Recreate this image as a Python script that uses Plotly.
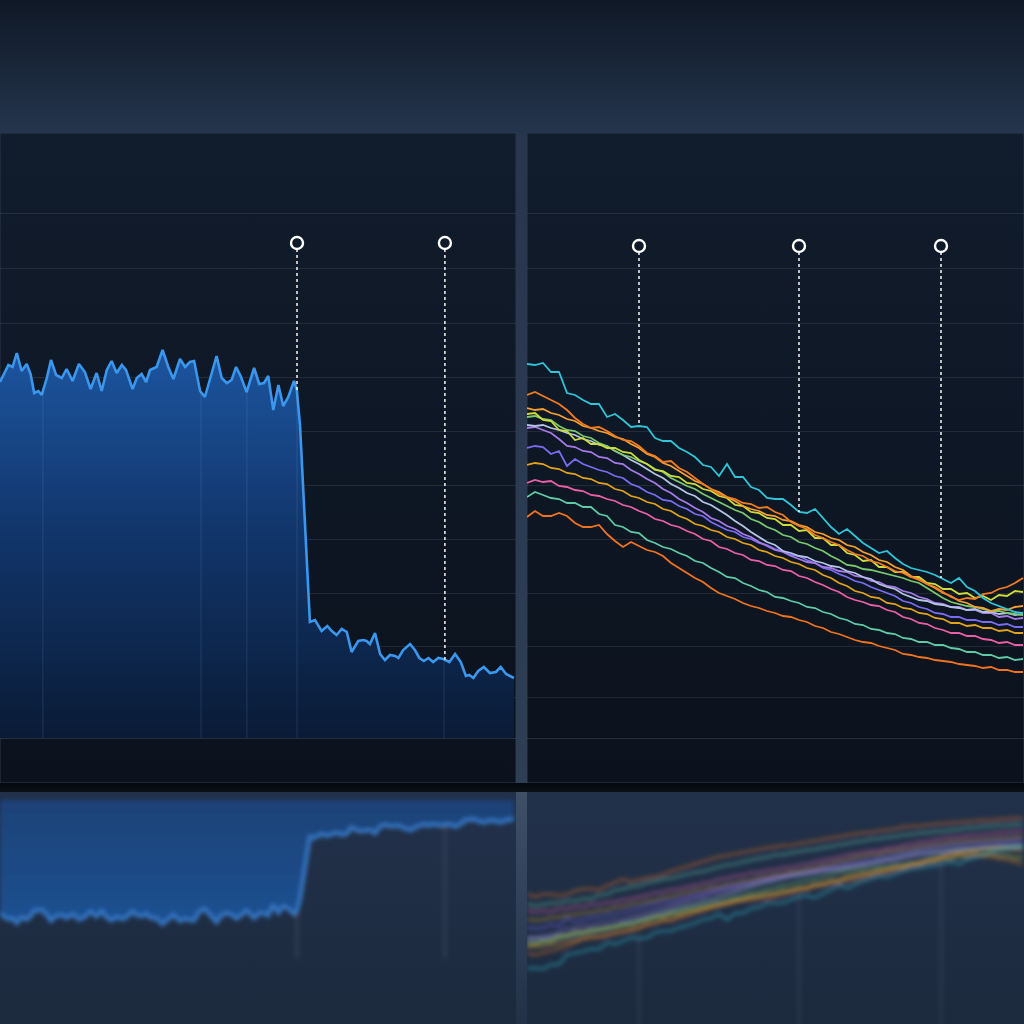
import numpy as np
import plotly.graph_objects as go

# ---- left panel: one channel, sampled at irregular times ----
left_t = [0, 1.7, 2.8, 4.2, 5.6, 7.2, 8.9, 10.2, 11.4, 12.8, 13.9, 15.6, 17.0, 18.7, 20.6, 22.2,
          24.2, 26.3, 28.3, 30.2, 32.2, 33.9, 35.6, 37.2, 38.9, 40.6, 42.0, 44.2, 45.6, 47.2, 48.7,
          50.0, 52.2, 54.2, 56.1, 57.8, 60.0, 61.7, 63.3, 64.7, 66.7, 68.3, 70.0, 72.2, 73.9, 75.6,
          77.2, 78.7, 80.2, 82.2, 84.7, 86.4, 88.0, 89.4, 91.1, 92.8, 94.4, 96.1, 98.0, 98.9, 100.0,
          101.7, 103.3, 105.0, 107.2, 109.1, 110.6, 112.2, 113.9, 115.6, 117.2, 119.4, 121.1, 122.2,
          123.3, 125.0, 126.7, 128.3, 130.0, 131.7, 132.8, 134.4, 136.7, 138.3, 139.8, 141.3, 142.8,
          144.4, 146.1, 147.8, 149.8, 151.7, 153.6, 155.3, 156.4, 157.8, 159.4, 161.3, 163.3, 165.3,
          166.9, 168.7, 170.0, 171.3]
left_level = [35.6, 36.6, 37.3, 37.1, 38.5, 36.7, 37.4, 36.4, 34.5, 34.7, 34.3, 36.0, 37.8, 36.3,
              36.0, 36.9, 35.7, 37.4, 36.6, 34.9, 36.5, 34.7, 36.8, 37.7, 36.5, 37.3, 36.8, 34.9,
              36.0, 36.4, 35.6, 36.8, 37.1, 38.8, 37.1, 35.9, 37.9, 37.1, 37.6, 37.7, 34.7, 34.1,
              36.0, 38.2, 36.0, 35.5, 35.8, 37.1, 36.2, 34.6, 37.0, 35.4, 35.5, 36.2, 32.8, 35.3,
              33.2, 34.1, 35.7, 34.9, 31.3, 20.8, 11.6, 11.8, 10.7, 11.2, 10.7, 10.3, 10.9, 10.6,
              8.6, 9.7, 9.8, 9.7, 9.4, 10.5, 8.4, 7.8, 8.3, 8.2, 8.0, 8.8, 9.4, 8.8, 8.0, 7.7, 8.0,
              7.6, 8.0, 7.9, 7.6, 8.4, 7.6, 6.2, 6.3, 6.0, 6.7, 7.1, 6.5, 6.6, 7.1, 6.4, 6.2, 6.0]
left_events = [99.0, 148.3]
left_grid_t = [14.3, 67.0, 82.3, 99.0, 148.0]

# ---- right panel: twelve channels on a shared sample index ----
right_idx = list(range(63))
right_events = [14.0, 34.0, 51.75]

ch_cyan = [37.4, 37.3, 37.5, 36.6, 36.6, 34.5, 34.3, 33.8, 33.4, 33.4, 32.1, 32.4, 31.8, 31.1, 31.2,
           31.1, 30.0, 29.7, 29.7, 29.0, 28.6, 28.1, 27.3, 27.1, 26.2, 27.4, 26.1, 26.1, 25.1, 24.8,
           24.0, 23.9, 23.9, 23.3, 22.6, 22.5, 22.9, 22.0, 21.1, 20.4, 20.9, 20.2, 19.5, 19.0, 18.5,
           18.7, 18.0, 17.4, 17.0, 16.8, 16.6, 16.3, 15.9, 15.5, 16.0, 15.1, 14.7, 14.0, 13.5, 13.2,
           12.9, 12.6, 12.5]
ch_orange_a = [34.3, 34.6, 34.2, 33.8, 33.4, 32.8, 32.0, 31.4, 31.0, 31.1, 30.7, 30.2, 29.8, 29.7,
               29.2, 28.5, 28.2, 27.6, 27.7, 27.0, 26.6, 26.0, 25.4, 24.9, 24.4, 24.1, 23.9, 23.5,
               23.4, 23.0, 23.1, 22.6, 22.3, 21.6, 21.2, 20.9, 20.3, 20.0, 19.6, 19.3, 18.8, 18.4,
               18.2, 17.7, 17.5, 17.1, 16.7, 16.5, 16.1, 15.8, 15.4, 15.1, 14.6, 14.1, 13.8, 14.0,
               13.9, 14.4, 14.5, 14.9, 15.1, 15.5, 16.0]
ch_orange_b = [33.0, 32.8, 32.9, 32.5, 32.3, 31.9, 31.7, 31.2, 31.0, 30.7, 30.5, 30.1, 29.9, 29.4,
               29.0, 28.4, 28.1, 27.5, 27.2, 26.7, 26.2, 25.7, 25.4, 24.9, 24.6, 24.1, 23.7, 23.2,
               22.9, 22.7, 22.3, 22.2, 21.8, 21.7, 21.3, 21.1, 20.6, 20.4, 20.0, 19.8, 19.3, 19.1,
               18.6, 18.3, 17.8, 17.6, 17.1, 16.8, 16.2, 15.9, 15.4, 15.0, 14.5, 14.2, 13.7, 13.5,
               13.1, 13.0, 12.7, 12.9, 12.8, 13.1, 13.2]
ch_lime = [32.4, 32.5, 31.8, 31.7, 30.8, 30.7, 29.8, 30.0, 29.4, 29.4, 29.0, 29.0, 28.6, 28.5, 27.8,
           27.4, 26.8, 26.7, 26.2, 26.1, 25.5, 25.4, 24.9, 24.7, 24.2, 24.0, 23.3, 23.2, 22.6, 22.5,
           22.0, 21.9, 21.3, 21.3, 20.7, 20.8, 20.0, 20.0, 19.3, 19.3, 18.5, 18.3, 17.7, 17.8, 17.1,
           17.1, 16.6, 16.6, 16.1, 16.1, 15.5, 15.4, 14.9, 14.9, 14.4, 14.5, 14.0, 14.2, 13.8, 14.3,
           14.2, 14.7, 14.6]
ch_green = [32.1, 32.2, 31.9, 31.8, 31.2, 30.8, 30.7, 30.2, 30.0, 29.5, 29.2, 28.7, 28.3, 28.1, 27.7,
            27.4, 26.9, 26.6, 26.0, 25.6, 25.2, 24.9, 24.4, 24.0, 23.6, 23.2, 22.8, 22.5, 21.9, 21.6,
            21.1, 20.8, 20.3, 20.1, 19.6, 19.4, 19.0, 18.7, 18.2, 17.8, 17.3, 17.2, 16.9, 16.8, 16.6,
            16.4, 16.2, 16.0, 15.7, 15.5, 15.0, 14.5, 14.0, 13.6, 13.4, 13.2, 13.1, 12.9, 12.7, 12.7,
            12.5, 12.4, 12.3]
ch_silver = [31.3, 31.2, 31.3, 31.0, 30.8, 30.5, 30.3, 29.9, 29.7, 29.3, 29.2, 28.7, 28.3, 27.8,
             27.4, 26.9, 26.4, 26.0, 25.4, 25.0, 24.5, 24.2, 23.6, 23.3, 22.8, 22.3, 21.7, 21.2,
             20.6, 20.1, 19.6, 19.3, 18.7, 18.5, 18.2, 18.1, 17.7, 17.5, 17.2, 17.1, 16.7, 16.5,
             16.1, 15.9, 15.4, 15.1, 14.9, 14.4, 14.1, 13.8, 13.7, 13.4, 13.3, 13.1, 13.0, 12.8,
             12.9, 12.6, 12.6, 12.4, 12.5, 12.3, 12.4]
ch_lavender = [31.0, 31.1, 30.8, 30.5, 29.9, 29.2, 29.1, 28.7, 28.6, 28.1, 28.0, 27.5, 27.4, 26.8,
               26.4, 25.9, 25.5, 24.9, 24.5, 23.9, 23.5, 23.0, 22.6, 22.0, 21.7, 21.2, 20.9, 20.4,
               20.1, 19.6, 19.2, 18.8, 18.6, 18.2, 17.9, 17.6, 17.5, 17.1, 17.0, 16.7, 16.6, 16.2,
               16.1, 15.7, 15.6, 15.2, 15.1, 14.7, 14.5, 14.1, 13.9, 13.5, 13.4, 13.1, 13.1, 12.8,
               12.8, 12.5, 12.5, 12.1, 12.2, 11.9, 12.0]
ch_violet = [29.0, 29.2, 29.1, 28.4, 28.7, 27.2, 27.9, 27.4, 27.1, 26.8, 26.6, 26.2, 26.0, 25.4,
             25.1, 24.6, 24.3, 23.8, 23.7, 23.2, 22.9, 22.4, 22.2, 21.6, 21.2, 20.8, 20.6, 20.1,
             19.9, 19.5, 19.3, 18.9, 18.7, 18.3, 18.2, 17.8, 17.5, 17.0, 16.8, 16.4, 16.1, 15.7,
             15.5, 15.1, 14.8, 14.5, 14.2, 13.7, 13.5, 13.1, 12.9, 12.5, 12.4, 12.1, 12.1, 11.8,
             11.8, 11.6, 11.6, 11.3, 11.4, 11.1, 11.1]
ch_amber = [27.3, 27.5, 27.4, 27.0, 26.9, 26.5, 26.4, 26.0, 25.9, 25.5, 25.4, 24.9, 24.7, 24.2, 24.0,
            23.6, 23.4, 22.9, 22.7, 22.2, 21.9, 21.4, 21.2, 20.8, 20.6, 20.1, 19.9, 19.5, 19.3, 18.8,
            18.6, 18.2, 18.0, 17.6, 17.4, 17.0, 16.8, 16.3, 16.0, 15.5, 15.2, 14.7, 14.5, 14.1, 14.0,
            13.5, 13.4, 13.0, 12.9, 12.5, 12.4, 12.0, 11.9, 11.5, 11.5, 11.2, 11.3, 11.0, 11.0, 10.7,
            10.8, 10.5, 10.5]
ch_pink = [25.5, 25.8, 25.6, 25.7, 25.2, 25.1, 24.8, 24.7, 24.3, 24.2, 23.9, 23.7, 23.3, 23.1, 22.7,
           22.4, 21.9, 21.7, 21.3, 21.1, 20.7, 20.4, 19.9, 19.7, 19.1, 18.9, 18.5, 18.3, 17.8, 17.7,
           17.3, 17.2, 16.8, 16.7, 16.2, 16.0, 15.6, 15.3, 14.9, 14.6, 14.1, 13.8, 13.6, 13.3, 13.2,
           12.8, 12.6, 12.1, 11.9, 11.5, 11.4, 11.0, 10.8, 10.5, 10.5, 10.2, 10.2, 9.9, 9.8, 9.5,
           9.6, 9.3, 9.3]
ch_teal = [24.1, 24.6, 24.3, 24.0, 23.9, 23.5, 23.5, 23.1, 23.1, 22.4, 22.2, 21.3, 21.1, 20.6, 20.5,
           19.8, 19.5, 19.1, 18.9, 18.5, 18.2, 17.7, 17.5, 17.0, 16.6, 16.1, 16.0, 15.5, 15.2, 14.8,
           14.6, 14.1, 14.0, 13.7, 13.5, 13.1, 13.0, 12.6, 12.4, 12.0, 11.8, 11.4, 11.3, 10.9, 10.8,
           10.5, 10.4, 10.0, 9.9, 9.6, 9.6, 9.3, 9.3, 9.0, 8.9, 8.6, 8.6, 8.3, 8.3, 8.0, 8.1, 7.8,
           7.9]
ch_rust = [22.1, 22.7, 22.2, 22.2, 22.5, 22.2, 21.5, 21.1, 21.1, 21.3, 20.4, 19.7, 19.1, 19.6, 19.2,
           18.8, 18.6, 18.2, 17.5, 17.0, 16.5, 16.0, 15.6, 15.0, 14.5, 14.2, 13.9, 13.5, 13.2, 13.0,
           12.7, 12.5, 12.2, 12.1, 11.8, 11.6, 11.2, 11.0, 10.6, 10.4, 10.1, 9.8, 9.6, 9.5, 9.2, 9.0,
           8.8, 8.4, 8.3, 8.1, 8.0, 7.8, 7.7, 7.6, 7.4, 7.3, 7.2, 7.0, 7.1, 6.8, 6.8, 6.6, 6.6]

level_ticks = [4.1, 9.2, 14.5, 19.9, 25.3, 30.7, 36.1, 41.5, 47.0, 52.5]
marker_level_left = 49.5
marker_level_right = 49.2

# drawing order bottom -> top, with a colour for each channel
right_channels = [
    (ch_rust, "#f2731f"), (ch_teal, "#5fcaa6"), (ch_pink, "#ec5fa6"), (ch_amber, "#e2a21a"),
    (ch_violet, "#7a6cf2"), (ch_lavender, "#a57ae8"), (ch_silver, "#b4c4e4"), (ch_green, "#79c86e"),
    (ch_lime, "#cddc39"), (ch_orange_b, "#f5a031"), (ch_orange_a, "#f47b20"), (ch_cyan, "#2ec5d8"),
]


def px(x):
    return x / 1024


def py(y):
    return 1 - y / 1024


def bg_rect(x0, y0, x1, y1, top, bottom, line=None):
    # background block drawn on the pixel-sized backdrop axis
    return go.Scatter(
        x=[x0, x1, x1, x0, x0], y=[y0, y0, y1, y1, y0],
        mode="lines", fill="toself",
        fillgradient=dict(type="vertical", colorscale=[[0, top], [1, bottom]], start=y0, stop=y1),
        line=dict(width=1 if line else 0, color=line or "rgba(0,0,0,0)"),
        hoverinfo="skip", xaxis="x", yaxis="y",
    )


def drop(xs, ys, x, top):
    return [x, x], [top, float(np.interp(x, xs, ys))]


fig = go.Figure()

# backdrop
fig.add_trace(bg_rect(0, 0, 1024, 1024, "#131e2e", "#131e2e"))
fig.add_trace(bg_rect(0, 0, 1024, 134, "#0f1826", "#24354d"))
fig.add_trace(bg_rect(0, 133, 516, 783, "#111c2c", "#0b121d", line="#2a394f"))
fig.add_trace(bg_rect(527, 133, 1024, 783, "#111c2c", "#0b121d", line="#2a394f"))
fig.add_trace(bg_rect(516, 133, 527, 790, "#27364c", "#2e3e55"))
fig.add_trace(bg_rect(0, 783, 1024, 792, "#05080d", "#0a0f17"))
fig.add_trace(bg_rect(0, 792, 1024, 1024, "#22314a", "#1c2a3e"))
fig.add_trace(bg_rect(516, 792, 527, 1024, "#3e4f68", "#223148"))

# left panel
fig.add_trace(go.Scatter(
    x=left_t, y=left_level, mode="lines", fill="tozeroy",
    fillgradient=dict(type="vertical", colorscale=[[0, "#0a1b36"], [0.55, "#11356a"], [1, "#1b529a"]],
                      start=0, stop=37),
    line=dict(color="#3b97ee", width=2.6), hoverinfo="skip", xaxis="x2", yaxis="y2"))

# vertical guides only show through the filled area
for g in left_grid_t:
    gx, gy = drop(left_t, left_level, g, 0)
    fig.add_trace(go.Scatter(
        x=gx, y=gy, mode="lines", line=dict(color="rgba(140,180,230,0.16)", width=1),
        hoverinfo="skip", xaxis="x2", yaxis="y2"))

for e in left_events:
    ex, ey = drop(left_t, left_level, e, marker_level_left)
    fig.add_trace(go.Scatter(
        x=ex, y=ey, mode="lines",
        line=dict(color="rgba(255,255,255,0.9)", width=1.6, dash="dot"),
        hoverinfo="skip", xaxis="x2", yaxis="y2"))
fig.add_trace(go.Scatter(
    x=left_events, y=[marker_level_left] * len(left_events), mode="markers",
    marker=dict(size=12, color="#0f1a28", line=dict(color="white", width=2.4)),
    hoverinfo="skip", xaxis="x2", yaxis="y2"))

# right panel
for values, color in right_channels:
    fig.add_trace(go.Scatter(
        x=right_idx, y=values, mode="lines", line=dict(color=color, width=1.8),
        hoverinfo="skip", xaxis="x3", yaxis="y3"))

for e in right_events:
    ex, ey = drop(right_idx, ch_cyan, e, marker_level_right)
    fig.add_trace(go.Scatter(
        x=ex, y=ey, mode="lines",
        line=dict(color="rgba(255,255,255,0.9)", width=1.6, dash="dot"),
        hoverinfo="skip", xaxis="x3", yaxis="y3"))
fig.add_trace(go.Scatter(
    x=right_events, y=[marker_level_right] * len(right_events), mode="markers",
    marker=dict(size=12, color="#0f1a28", line=dict(color="white", width=2.4)),
    hoverinfo="skip", xaxis="x3", yaxis="y3"))

# mirrored reflections under the panels
fig.add_trace(go.Scatter(
    x=left_t, y=left_level, mode="lines", fill="tozeroy", opacity=0.36,
    fillgradient=dict(type="vertical", colorscale=[[0, "#1a4277"], [1, "#1e5090"]], start=0, stop=37),
    line=dict(color="#3576c4", width=4), hoverinfo="skip", xaxis="x4", yaxis="y4"))
for e in left_events:
    ex, ey = drop(left_t, left_level, e, marker_level_left)
    fig.add_trace(go.Scatter(
        x=ex, y=ey, mode="lines", line=dict(color="rgba(255,255,255,0.08)", width=3),
        hoverinfo="skip", xaxis="x4", yaxis="y4"))

for values, color in right_channels:
    fig.add_trace(go.Scatter(
        x=right_idx, y=values, mode="lines", opacity=0.34, line=dict(color=color, width=3.5),
        hoverinfo="skip", xaxis="x5", yaxis="y5"))
for e in right_events:
    ex, ey = drop(right_idx, ch_cyan, e, marker_level_right)
    fig.add_trace(go.Scatter(
        x=ex, y=ey, mode="lines", line=dict(color="rgba(255,255,255,0.06)", width=3),
        hoverinfo="skip", xaxis="x5", yaxis="y5"))

hidden = dict(visible=False, fixedrange=True)
grid_y = dict(tickvals=level_ticks, showgrid=True, gridcolor="rgba(255,255,255,0.085)", gridwidth=1,
              showticklabels=False, zeroline=False, ticks="", fixedrange=True)
plain_x = dict(showgrid=False, showticklabels=False, zeroline=False, ticks="",
               showline=True, linecolor="rgba(255,255,255,0.12)", fixedrange=True)

fig.update_layout(
    width=1024, height=1024, margin=dict(l=0, r=0, t=0, b=0),
    paper_bgcolor="#131e2e", plot_bgcolor="rgba(0,0,0,0)", showlegend=False,
    xaxis=dict(domain=[0, 1], range=[0, 1024], **hidden),
    yaxis=dict(domain=[0, 1], range=[1024, 0], **hidden),
    xaxis2=dict(domain=[0, px(516)], range=[0, 172], anchor="y2", **plain_x),
    yaxis2=dict(domain=[py(738), py(211)], range=[0, 52.7], anchor="x2", **grid_y),
    xaxis3=dict(domain=[px(527), 1], range=[0, 62.125], anchor="y3", **plain_x),
    yaxis3=dict(domain=[py(738), py(211)], range=[0, 52.7], anchor="x3", **grid_y),
    xaxis4=dict(domain=[0, px(516)], range=[0, 172], anchor="y4", **hidden),
    yaxis4=dict(domain=[0, py(792)], range=[70.0, -2.5], anchor="x4", **hidden),
    xaxis5=dict(domain=[px(527), 1], range=[0, 62.125], anchor="y5", **hidden),
    yaxis5=dict(domain=[0, py(792)], range=[48.8, 1.2], anchor="x5", **hidden),
)

# soften the reflections with an svg blur filter and drop the page margin
post = """
document.body.style.margin = '0';
(function () {
  var gd = document.getElementById('{plot_id}');
  var NS = 'http://www.w3.org/2000/svg';
  function apply() {
    var svg = gd.querySelector('svg.main-svg');
    if (!svg) { return; }
    if (!document.getElementById('reflect-blur')) {
      var defs = svg.querySelector('defs');
      if (!defs) { defs = svg.insertBefore(document.createElementNS(NS, 'defs'), svg.firstChild); }
      var f = document.createElementNS(NS, 'filter');
      f.setAttribute('id', 'reflect-blur');
      f.setAttribute('x', '-10%'); f.setAttribute('y', '-30%');
      f.setAttribute('width', '120%'); f.setAttribute('height', '160%');
      var b = document.createElementNS(NS, 'feGaussianBlur');
      b.setAttribute('stdDeviation', '2.2');
      f.appendChild(b);
      defs.appendChild(f);
    }
    gd.querySelectorAll('.subplot.x4y4 .scatterlayer, .subplot.x5y5 .scatterlayer').forEach(function (g) {
      g.setAttribute('filter', 'url(#reflect-blur)');
    });
  }
  apply();
  if (gd.on) { gd.on('plotly_afterplot', apply); }
  setTimeout(apply, 20);
})();
"""
fig.write_html("out.html", post_script=post, config={"displayModeBar": False, "staticPlot": True})
